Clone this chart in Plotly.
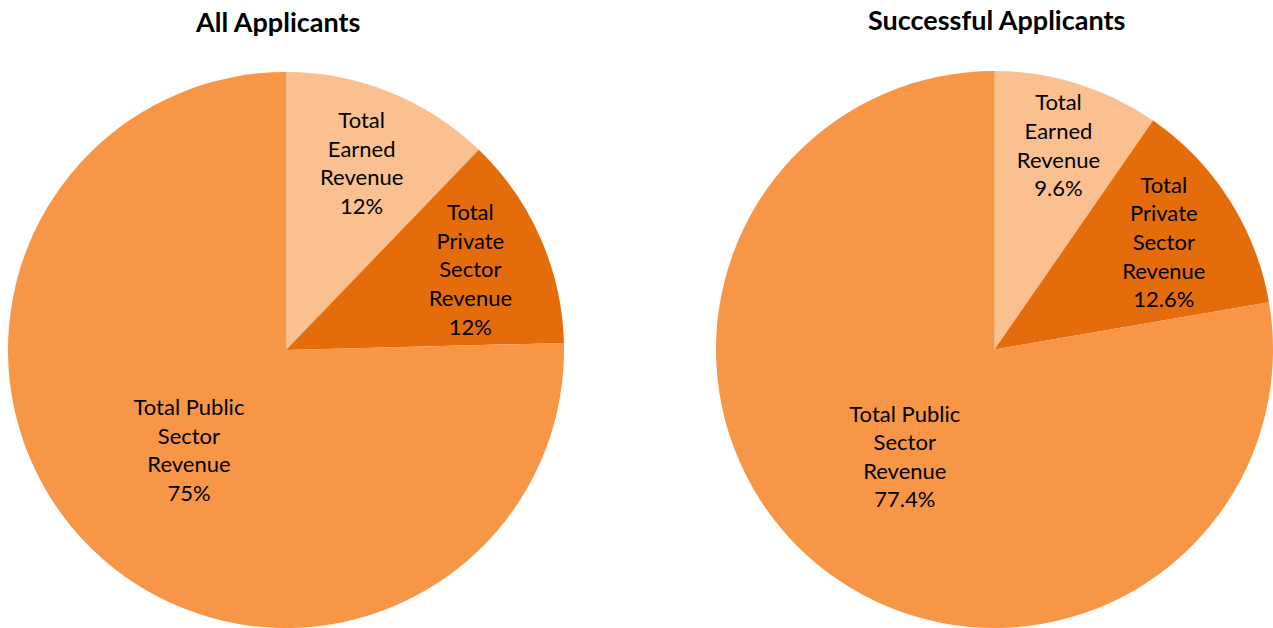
import plotly.graph_objects as go

categories = ["Total Earned Revenue", "Total Private Sector Revenue", "Total Public Sector Revenue"]
label_lines = ["Total<br>Earned<br>Revenue", "Total<br>Private<br>Sector<br>Revenue", "Total Public<br>Sector<br>Revenue"]
all_values = [12.2, 12.4, 75.4]
all_pct_text = ["12%", "12%", "75%"]
succ_values = [9.6, 12.6, 77.4]
succ_pct_text = ["9.6%", "12.6%", "77.4%"]
colors = ["#FAC090", "#E46C0A", "#F79646"]
titles = ["All Applicants", "Successful Applicants"]

W, H = 1273, 628
FONT = "Lato, Calibri, Carlito, sans-serif"

def texts(pcts):
    return [f"{l}<br>{p}" for l, p in zip(label_lines, pcts)]

fig = go.Figure()
fig.add_trace(go.Pie(
    labels=categories, values=all_values, text=texts(all_pct_text),
    texttemplate="%{text}", textinfo="text", textposition="inside",
    insidetextorientation="horizontal", sort=False, direction="clockwise",
    rotation=0, marker=dict(colors=colors, line=dict(width=0)),
    textfont=dict(family=FONT, size=22, color="#000000"),
    domain=dict(x=[8 / W, 564 / W], y=[0, (H - 72) / H]),
    hoverinfo="label+percent", showlegend=False,
))
fig.add_trace(go.Pie(
    labels=categories, values=succ_values, text=texts(succ_pct_text),
    texttemplate="%{text}", textinfo="text", textposition="inside",
    insidetextorientation="horizontal", sort=False, direction="clockwise",
    rotation=0, marker=dict(colors=colors, line=dict(width=0)),
    textfont=dict(family=FONT, size=22, color="#000000"),
    domain=dict(x=[716 / W, 1273 / W], y=[0, (H - 71) / H]),
    hoverinfo="label+percent", showlegend=False,
))

fig.add_annotation(text=f"<b>{titles[0]}</b>", x=277 / W, y=1 - 22 / H, xref="paper", yref="paper",
                   xanchor="center", yanchor="middle",
                   showarrow=False, font=dict(family=FONT, size=27, color="#000000"))
fig.add_annotation(text=f"<b>{titles[1]}</b>", x=996 / W, y=1 - 20 / H, xref="paper", yref="paper",
                   xanchor="center", yanchor="middle",
                   showarrow=False, font=dict(family=FONT, size=27, color="#000000"))

fig.update_layout(
    width=W, height=H, margin=dict(l=0, r=0, t=0, b=0),
    paper_bgcolor="white", plot_bgcolor="white",
    uniformtext=dict(minsize=22, mode="show"),
)
fig.write_html("out.html", config={"displayModeBar": False},
               post_script="document.body.style.margin='0';document.body.style.overflow='hidden';")
